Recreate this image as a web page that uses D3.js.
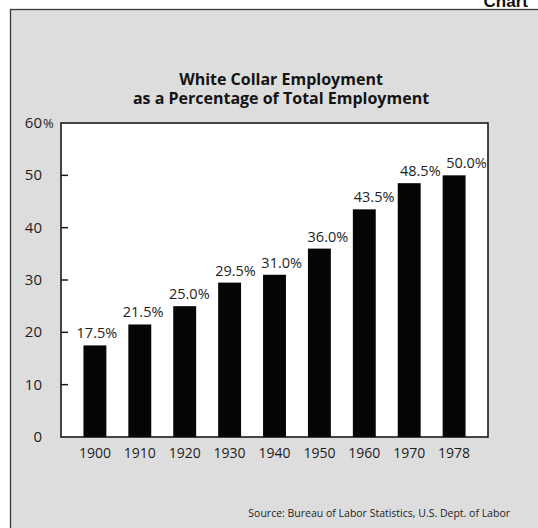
<!DOCTYPE html>
<html>
<head>
<meta charset="utf-8">
<script src="https://cdn.jsdelivr.net/npm/d3@7"></script>
<style>
  body { margin: 0; background: #fff; }
  svg { display: block; }
  .tick-label { font-family: "Open Sans", sans-serif; fill: #1e1e1e; }
</style>
</head>
<body>
<div id="viz"></div>
<script>
var w = 538;
var h = 528;

// data
var years = ["1900", "1910", "1920", "1930", "1940", "1950", "1960", "1970", "1978"];
var shares = [17.5, 21.5, 25.0, 29.5, 31.0, 36.0, 43.5, 48.5, 50.0];
var yTicks = [0, 10, 20, 30, 40, 50, 60];

var svg = d3.select("#viz")
    .append("svg")
    .attr("width", w)
    .attr("height", h);

// "Chart" tab, cut off at the top edge
svg.append("text")
    .attr("x", 528)
    .attr("y", 6.5)
    .attr("text-anchor", "end")
    .style("font-family", "Liberation Sans, Arial, sans-serif")
    .style("font-weight", "bold")
    .style("font-size", "17px")
    .style("fill", "#111")
    .text("Chart");

// gray panel
svg.append("rect")
    .attr("x", 10.5)
    .attr("y", 9.5)
    .attr("width", 560)
    .attr("height", 560)
    .attr("fill", "#dddddd")
    .attr("stroke", "#3a3a3a")
    .attr("stroke-width", 1.3);

var plotL = 61, plotR = 488, plotT = 123, plotB = 437;

var x = d3.scaleBand()
    .domain(years)
    .range([plotL, plotR])
    .paddingInner(0.49)
    .paddingOuter(0.5);

var y = d3.scaleLinear()
    .domain([0, 60])
    .range([plotB, plotT]);

// white plot frame
svg.append("rect")
    .attr("x", plotL)
    .attr("y", plotT)
    .attr("width", plotR - plotL)
    .attr("height", plotB - plotT)
    .attr("fill", "#fff")
    .attr("stroke", "#1a1a1a")
    .attr("stroke-width", 1.6);

// inner ticks on the left side
svg.append("g").selectAll("line")
    .data(yTicks.filter(function (d) { return d > 0 && d < 60; }))
    .enter().append("line")
    .attr("x1", plotL)
    .attr("x2", plotL + 7)
    .attr("y1", function (d) { return y(d); })
    .attr("y2", function (d) { return y(d); })
    .attr("stroke", "#1a1a1a")
    .attr("stroke-width", 1.5);

// y labels
svg.append("g").selectAll("text")
    .data(yTicks)
    .enter().append("text")
    .attr("class", "tick-label")
    .attr("x", 42)
    .attr("y", function (d) { return y(d) + 5; })
    .attr("text-anchor", "end")
    .style("font-size", "15px")
    .text(function (d) { return d; });

svg.append("text")
    .attr("class", "tick-label")
    .attr("x", 43)
    .attr("y", y(60) + 5)
    .style("font-size", "13px")
    .text("%");

// bars
svg.append("g").selectAll("rect")
    .data(shares)
    .enter().append("rect")
    .attr("x", function (d, i) { return x(years[i]); })
    .attr("width", x.bandwidth())
    .attr("y", function (d) { return y(d); })
    .attr("height", function (d) { return plotB - y(d); })
    .attr("fill", "#050505");

// value labels, drifting a little to the right like the original
svg.append("g").selectAll("text")
    .data(shares)
    .enter().append("text")
    .attr("class", "tick-label")
    .attr("x", function (d, i) { return x(years[i]) + x.bandwidth() / 2 + 2 + 1.3 * i; })
    .attr("y", function (d) { return y(d) - 7; })
    .attr("text-anchor", "middle")
    .style("font-size", "14.5px")
    .text(function (d) { return d.toFixed(1) + "%"; });

// year labels
svg.append("g").selectAll("text")
    .data(years)
    .enter().append("text")
    .attr("class", "tick-label")
    .attr("x", function (d) { return x(d) + x.bandwidth() / 2; })
    .attr("y", 458)
    .attr("text-anchor", "middle")
    .style("font-size", "14px")
    .text(function (d) { return d; });

// title
var title = svg.append("text")
    .attr("text-anchor", "middle")
    .style("font-family", "Open Sans, sans-serif")
    .style("font-weight", "bold")
    .style("font-size", "16px")
    .style("fill", "#141414");
title.append("tspan").attr("x", 281).attr("y", 85).text("White Collar Employment");
title.append("tspan").attr("x", 281).attr("y", 103.5).text("as a Percentage of Total Employment");

// source
svg.append("text")
    .attr("x", 510)
    .attr("y", 517)
    .attr("text-anchor", "end")
    .style("font-family", "Open Sans, sans-serif")
    .style("font-size", "10.5px")
    .style("fill", "#1e1e1e")
    .text("Source: Bureau of Labor Statistics, U.S. Dept. of Labor");
</script>
</body>
</html>
